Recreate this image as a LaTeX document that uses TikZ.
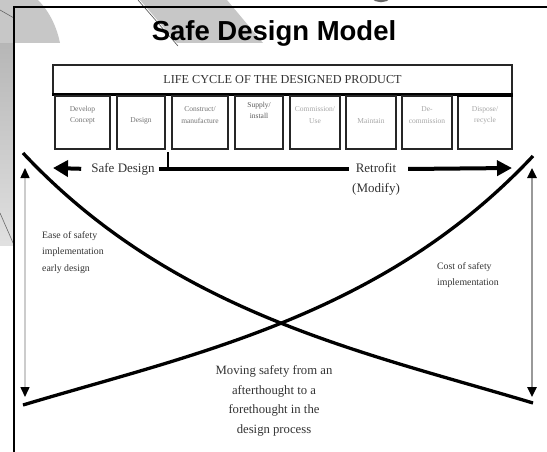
\documentclass[tikz,border=0pt]{standalone}
\usepackage{fontspec}
\setmainfont{Liberation Serif}
\newfontfamily\titlefont{Liberation Sans}
\usetikzlibrary{arrows.meta}
\begin{document}
\begin{tikzpicture}[x=1pt,y=-1pt,
  stagebox/.style={draw=black!85, line width=1.6pt, minimum width=#1, minimum height=53pt, inner sep=0pt},
  stagetext/.style={font=\fontsize{7.5}{11.5}\selectfont, text=#1, align=center, inner sep=0pt},
  rowtext/.style={font=\fontsize{13}{20}\selectfont, text=black!80, align=center, inner sep=3pt},
  note/.style={font=\fontsize{9.8}{16.5}\selectfont, text=black!80, inner sep=0pt},
  bigarrow/.style={line width=4pt, -{Triangle[length=15pt,width=16pt]}},
  rowline/.style={line width=3.5pt},
  curve/.style={line width=3.3pt},
  dimarrow/.style={line width=#1, {Triangle[length=10pt,width=9pt,color=black]}-{Triangle[length=10pt,width=9pt,color=black]}},
  deco/.style={fill=black!22}
]
\useasboundingbox (0,0) rectangle (547,452);
\fill[white] (0,0) rectangle (547,452);

% slide decoration behind the frame
\shade[top color=black!32, bottom color=black!12] (0,0) rectangle (14,245);
\fill[deco] (0,0) -- (38,0) .. controls (50,12) and (57,28) .. (60,43) -- (0,43) -- cycle;
\fill[deco] (140,0) -- (227,0) -- (263,43) -- (177,43) -- cycle;
\draw[black!70, line width=0.6pt] (138,0) -- (178,46);
\draw[black!60, line width=0.6pt] (0,10) -- (14,18);
\draw[black!60, line width=0.6pt] (0,213) -- (14,245);
\draw[black!60, line width=2.5pt] (381,-12) circle (13);

% slide frame
\draw[line width=1.4pt] (14,452) -- (14,7) -- (547,7);

% title
\node[font=\titlefont\bfseries\fontsize{27.5}{30}\selectfont, inner sep=0pt] (title) at (274,33) {Safe Design Model};

% life cycle header and stages
\node[draw=black!85, line width=1.4pt, minimum width=459pt, minimum height=29pt, inner sep=0pt,
      font=\fontsize{12.2}{14}\selectfont, text=black!80] (hdr) at (282.5,79.5) {LIFE CYCLE OF THE DESIGNED PRODUCT};
\draw[line width=3.5pt] (hdr.south west) -- (hdr.south east);

\node[stagebox=55pt] (s1) at (82.5,122.5) {};
\node[stagebox=48pt] (s2) at (141,122.5) {};
\node[stagebox=56pt] (s3) at (200,122.5) {};
\node[stagebox=48pt] (s4) at (259,122.5) {};
\node[stagebox=50pt] (s5) at (315,122.5) {};
\node[stagebox=50pt] (s6) at (371,122.5) {};
\node[stagebox=50pt] (s7) at (427,122.5) {};
\node[stagebox=54pt] (s8) at (485,122.5) {};
\draw[line width=3pt] (s8.north west) -- (s8.north east);

\node[stagetext=black!55] (t1) at ([yshift=-20pt]s1.north) {Develop\\Concept};
\node[stagetext=black!55] (t2) at ([yshift=-26pt]s2.north) {Design};
\node[stagetext=black!55] (t3) at ([yshift=-20pt]s3.north) {Construct/\\manufacture};
\node[stagetext=black!65] (t4) at ([yshift=-15pt]s4.north) {Supply/\\install};
\node[stagetext=black!35] (t5) at ([yshift=-20pt]s5.north) {Commission/\\Use};
\node[stagetext=black!35] (t6) at ([yshift=-26pt]s6.north) {Maintain};
\node[stagetext=black!35] (t7) at ([yshift=-20pt]s7.north) {De-\\commission};
\node[stagetext=black!35] (t8) at ([yshift=-20pt]s8.north) {Dispose/\\recycle};

% safe design / retrofit row
\node[rowtext] (safe) at (123,169) {Safe Design};
\node[rowtext] (retro) at (376,179.5) {Retrofit\\(Modify)};
\coordinate (ltip) at (53,168);
\coordinate (rtip) at (512,168);
\coordinate (tick) at (168,152);
\draw[bigarrow, shorten <=7pt] (safe.west) -- (ltip);
\draw[rowline, shorten <=1pt] (safe.east) -- (safe.east -| retro.west) coordinate (junction);
\draw[line width=2pt] (tick) -- (tick |- safe.east);
\draw[line width=4pt, -{Triangle[length=15pt,width=15pt]}] (retro.east |- safe.east) ++(5,0) -- (rtip);

% cost and ease curves
\coordinate (ea) at (23,153);
\coordinate (eb) at (533,403);
\coordinate (ca) at (533,156);
\coordinate (cb) at (23,405);
\draw[curve] (ea) .. controls (173,313) and (363,352) .. (eb);
\draw[curve] (ca) .. controls (383,316) and (193,354) .. (cb);

% vertical range arrows
\coordinate (lt) at (25,168);
\coordinate (lb) at (25,397);
\coordinate (rt) at (532,168);
\coordinate (rb) at (532,397);
\draw[dimarrow=1.5pt, draw=black!20] (lt) -- (lb);
\draw[dimarrow=2.4pt, draw=black!40] (rt) -- (rb);

% labels
\node[note, anchor=north west, align=left] (ease) at (42,231) {Ease of safety\\implementation\\early design};
\node[note, anchor=north west, align=left] (cost) at (437,262) {Cost of safety\\implementation};
\node[font=\fontsize{12.7}{19.5}\selectfont, text=black!80, align=center, inner sep=0pt] (moving) at (274,401) {Moving safety from an\\afterthought to a\\forethought in the\\design process};
\end{tikzpicture}
\end{document}
